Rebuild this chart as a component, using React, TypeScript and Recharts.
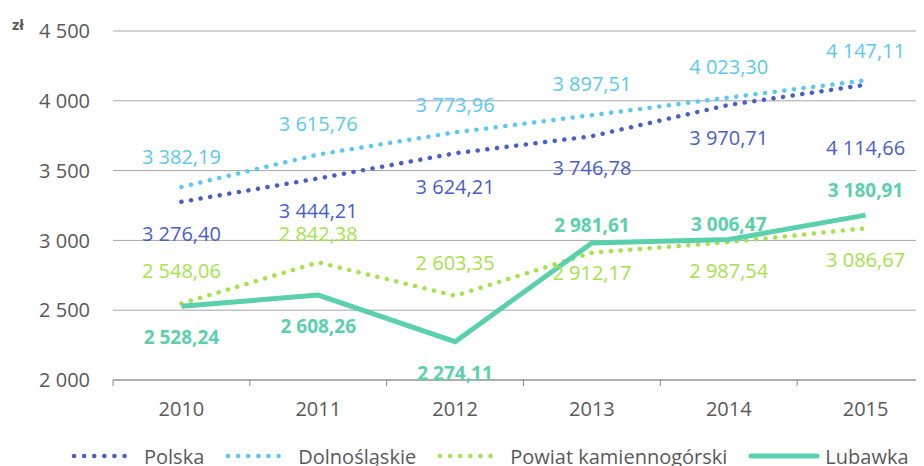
import { LineChart, Line, XAxis, YAxis, CartesianGrid, Legend, LabelList } from 'recharts';

const years = ['2010', '2011', '2012', '2013', '2014', '2015'];
const polska = [3276.4, 3444.21, 3624.21, 3746.78, 3970.71, 4114.66];
const dolnoslaskie = [3382.19, 3615.76, 3773.96, 3897.51, 4023.3, 4147.11];
const powiat = [2548.06, 2842.38, 2603.35, 2912.17, 2987.54, 3086.67];
const lubawka = [2528.24, 2608.26, 2274.11, 2981.61, 3006.47, 3180.91];
const yTicks = [2000, 2500, 3000, 3500, 4000, 4500];

// vertical label offsets (label centre relative to point)
const polskaDy = [32, 32, 33, 31, 33, 63];
const dolnDy = [-31, -31, -28, -32, -31, -30];
const powiatDy = [-33, -29, -33, 20, 28, 31];
const lubawkaDy = [31, 31, 31, -18, -15, -25];

const data = years.map((y, i) => ({
  year: y,
  polska: polska[i],
  dolnoslaskie: dolnoslaskie[i],
  powiat: powiat[i],
  lubawka: lubawka[i],
}));

const FONT = '"Open Sans", sans-serif';
const GRAY = '#595959';
const C_POL = '#4a5ec9';
const C_DOL = '#5bc8f2';
const C_POW = '#a6e24a';
const C_LUB = '#5bd0ac';

const thousands = (s: string) => s.replace(/\B(?=(\d{3})+(?!\d))/g, ' ');
const fmtTick = (v: number) => thousands(String(v));
const fmtVal = (v: number) => {
  const [a, b] = v.toFixed(2).split('.');
  return thousands(a) + ',' + b;
};

const makeLabel = (dys: number[], color: string, bold = false) => (props: any) => {
  const { x, y, value, index } = props;
  return (
    <text
      x={x}
      y={y + dys[index]}
      textAnchor="middle"
      dominantBaseline="central"
      fill={color}
      fontSize={bold ? 19 : 20}
      fontWeight={bold ? 700 : 400}
      fontFamily={FONT}
    >
      {fmtVal(value)}
    </text>
  );
};

const XTick = (props: any) => {
  const { x, y, payload, index } = props;
  const half = payload.offset ?? 68.5;
  return (
    <g>
      <line x1={x - half} y1={y} x2={x - half} y2={y + 6} stroke="#898989" />
      {index === years.length - 1 && <line x1={x + half} y1={y} x2={x + half} y2={y + 6} stroke="#898989" />}
      <text x={x} y={y + 28} textAnchor="middle" dominantBaseline="central" fill={GRAY} fontSize={20} fontFamily={FONT}>
        {payload.value}
      </text>
    </g>
  );
};

const legendItems = [
  { name: 'Polska', color: C_POL, dotted: true },
  { name: 'Dolnośląskie', color: C_DOL, dotted: true },
  { name: 'Powiat kamiennogórski', color: C_POW, dotted: true },
  { name: 'Lubawka', color: C_LUB, dotted: false },
];

const LegendContent = () => (
  <div style={{ display: 'flex', alignItems: 'center', height: 22, paddingLeft: 63, fontFamily: FONT, fontSize: 20, color: GRAY }}>
    {legendItems.map((it) => (
      <div key={it.name} style={{ display: 'flex', alignItems: 'center', marginRight: 21 }}>
        <svg width={it.dotted ? 66 : 72} height={10} style={{ marginRight: it.dotted ? 7 : 5 }}>
          <line
            x1={3}
            y1={5}
            x2={it.dotted ? 63 : 69}
            y2={5}
            stroke={it.color}
            strokeWidth={it.dotted ? 4.5 : 5}
            strokeLinecap="round"
            strokeDasharray={it.dotted ? '0.1 10' : undefined}
          />
        </svg>
        <span>{it.name}</span>
      </div>
    ))}
  </div>
);

export default function App() {
  return (
    <div style={{ width: 916, height: 458, overflow: 'hidden', position: 'relative' }}>
      <span style={{ position: 'absolute', left: 4, top: 6, fontFamily: FONT, fontSize: 15, fontWeight: 700, color: GRAY }}>zł</span>
      <LineChart width={930} height={458} data={data} margin={{ top: 23, right: 4, left: 0, bottom: 3 }}>
        <CartesianGrid vertical={false} stroke="#a6a6a6" />
        <XAxis
          dataKey="year"
          scale="band"
          axisLine={{ stroke: '#898989' }}
          tickLine={false}
          tickSize={0}
          tickMargin={0}
          height={61}
          tick={<XTick />}
          interval={0}
        />
        <YAxis
          domain={[2000, 4500]}
          ticks={yTicks}
          width={105}
          axisLine={false}
          tickLine={false}
          tickSize={0}
          tickMargin={23}
          tickFormatter={fmtTick}
          tick={{ fill: GRAY, fontSize: 20, fontFamily: FONT }}
        />
        <Legend verticalAlign="bottom" content={<LegendContent />} wrapperStyle={{ bottom: -1 }} />
        <Line
          dataKey="polska"
          name="Polska"
          stroke={C_POL}
          strokeWidth={4.5}
          strokeLinecap="round"
          strokeDasharray="0.1 9.6"
          dot={false}
          isAnimationActive={false}
        >
          <LabelList dataKey="polska" content={makeLabel(polskaDy, C_POL)} />
        </Line>
        <Line
          dataKey="dolnoslaskie"
          name="Dolnośląskie"
          stroke={C_DOL}
          strokeWidth={4.5}
          strokeLinecap="round"
          strokeDasharray="0.1 9.6"
          dot={false}
          isAnimationActive={false}
        >
          <LabelList dataKey="dolnoslaskie" content={makeLabel(dolnDy, C_DOL)} />
        </Line>
        <Line
          dataKey="powiat"
          name="Powiat kamiennogórski"
          stroke={C_POW}
          strokeWidth={4.5}
          strokeLinecap="round"
          strokeDasharray="0.1 9.6"
          dot={false}
          isAnimationActive={false}
        >
          <LabelList dataKey="powiat" content={makeLabel(powiatDy, C_POW)} />
        </Line>
        <Line
          dataKey="lubawka"
          name="Lubawka"
          stroke={C_LUB}
          strokeWidth={5}
          dot={false}
          isAnimationActive={false}
        >
          <LabelList dataKey="lubawka" content={makeLabel(lubawkaDy, C_LUB, true)} />
        </Line>
      </LineChart>
    </div>
  );
}
